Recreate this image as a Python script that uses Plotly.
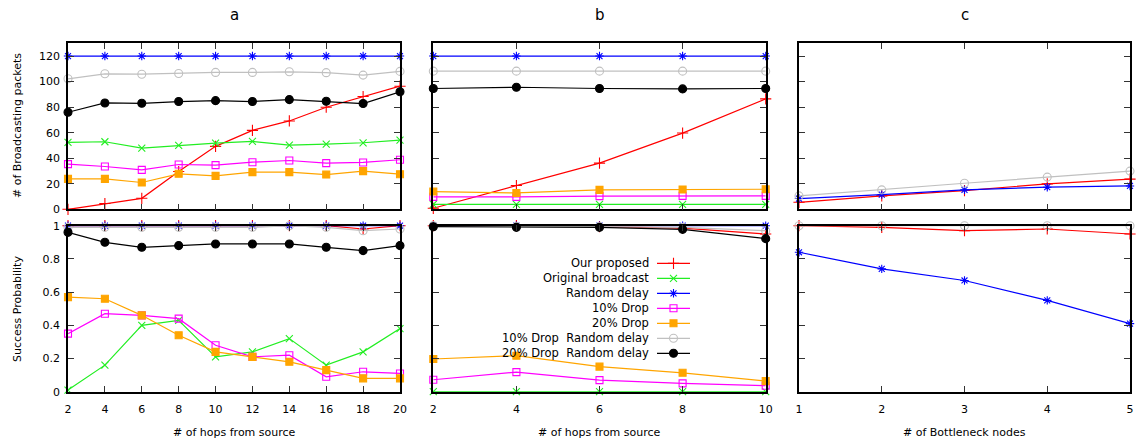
import plotly.graph_objects as go

W, H = 1140, 443

# ---------------- data ----------------
series_names = ["Our proposed", "Original broadcast", "Random delay", "10% Drop",
                "20% Drop", "10% Drop  Random delay", "20% Drop  Random delay"]

hops_a = [2, 4, 6, 8, 10, 12, 14, 16, 18, 20]
hops_b = [2, 4, 6, 8, 10]
bottleneck = [1, 2, 3, 4, 5]

# panel a – number of broadcasting packets
a_pkt_proposed = [0, 4.5, 8.6, 29.6, 49.3, 61.8, 69.2, 79.9, 88.3, 96.4]
a_pkt_original = [52.4, 52.9, 47.9, 50.0, 51.9, 53.2, 50.3, 51.1, 52.1, 54.2]
a_pkt_random = [120, 120, 120, 120, 120, 120, 120, 120, 120, 120]
a_pkt_drop10 = [35.4, 33.5, 30.9, 35.1, 34.6, 36.9, 38.2, 36.2, 36.7, 38.8]
a_pkt_drop20 = [23.8, 23.8, 21.0, 27.8, 26.2, 29.1, 29.1, 27.2, 29.9, 27.5]
a_pkt_drop10rd = [102.2, 106.1, 105.8, 106.4, 107.2, 107.2, 107.7, 107.0, 105.1, 108.0]
a_pkt_drop20rd = [76.0, 83.3, 83.0, 84.4, 85.1, 84.4, 85.9, 84.6, 82.8, 92.0]

# panel a – success probability
a_suc_proposed = [1, 1, 1, 1, 1, 1, 1, 1, 0.98, 1]
a_suc_original = [0.01, 0.16, 0.40, 0.43, 0.21, 0.24, 0.32, 0.16, 0.24, 0.38]
a_suc_random = [1, 1, 1, 1, 1, 1, 1, 1, 1, 1]
a_suc_drop10 = [0.35, 0.47, 0.46, 0.44, 0.28, 0.21, 0.22, 0.09, 0.12, 0.11]
a_suc_drop20 = [0.57, 0.56, 0.46, 0.34, 0.24, 0.21, 0.18, 0.13, 0.08, 0.08]
a_suc_drop10rd = [0.99, 0.99, 0.99, 0.99, 0.99, 0.99, 1.0, 0.99, 0.97, 0.98]
a_suc_drop20rd = [0.96, 0.90, 0.87, 0.88, 0.89, 0.89, 0.89, 0.87, 0.85, 0.88]

# panel b – number of broadcasting packets
b_pkt_proposed = [0.8, 18.6, 36.2, 59.7, 86.5]
b_pkt_original = [3.9, 3.9, 3.9, 3.9, 3.9]
b_pkt_random = [120, 120, 120, 120, 120]
b_pkt_drop10 = [9.7, 9.7, 10.3, 10.5, 10.5]
b_pkt_drop20 = [13.9, 12.8, 15.2, 15.5, 15.7]
b_pkt_drop10rd = [108.2, 108.2, 108.2, 108.2, 108.2]
b_pkt_drop20rd = [94.6, 95.6, 94.6, 94.3, 94.6]

# panel b – success probability
b_suc_proposed = [1, 1, 0.995, 0.985, 0.95]
b_suc_original = [0, 0, 0, 0, 0]
b_suc_random = [1, 1, 1, 1, 1]
b_suc_drop10 = [0.072, 0.118, 0.070, 0.050, 0.036]
b_suc_drop20 = [0.197, 0.217, 0.151, 0.114, 0.064]
b_suc_drop10rd = [1, 0.995, 0.995, 0.99, 0.97]
b_suc_drop20rd = [0.994, 0.99, 0.99, 0.978, 0.922]

# panel c – bottleneck nodes
c_pkt_proposed = [5.5, 10.5, 14.7, 19.9, 23.6]
c_pkt_random = [8.4, 11.5, 15.2, 17.3, 18.3]
c_pkt_drop10rd = [10.5, 15.2, 20.4, 25.2, 29.9]

c_suc_proposed = [1, 0.99, 0.97, 0.98, 0.95]
c_suc_random = [0.84, 0.74, 0.67, 0.55, 0.41]
c_suc_drop10rd = [1, 1, 1, 1, 1]

pkt_ticks = [0, 20, 40, 60, 80, 100, 120]
suc_ticks = [0, 0.2, 0.4, 0.6, 0.8, 1]
suc_tick_labels = ["0", "0.2", "0.4", "0.6", "0.8", "1"]

# ---------------- styles ----------------
colors = ["#ff0000", "#22ee22", "#0000ff", "#ff00ff", "#ffa500", "#c0c0c0", "#000000"]
symbols = ["cross-thin-open", "x-thin-open", "asterisk-open", "square-open",
           "square", "circle-open", "circle"]
msizes = [8, 7, 7, 7, 7, 8, 8]

FONT = "DejaVu Sans"

fig = go.Figure()


def add(xs, ys, idx, xa, ya):
    fig.add_trace(go.Scatter(
        x=xs, y=ys, mode="lines+markers", name=series_names[idx],
        line=dict(color=colors[idx], width=1.2),
        marker=dict(symbol=symbols[idx], size=msizes[idx], color=colors[idx],
                    line=dict(color=colors[idx], width=1.1)),
        xaxis=xa, yaxis=ya, showlegend=False, cliponaxis=False))


a_pkt = [a_pkt_proposed, a_pkt_original, a_pkt_random, a_pkt_drop10, a_pkt_drop20, a_pkt_drop10rd, a_pkt_drop20rd]
a_suc = [a_suc_proposed, a_suc_original, a_suc_random, a_suc_drop10, a_suc_drop20, a_suc_drop10rd, a_suc_drop20rd]
b_pkt = [b_pkt_proposed, b_pkt_original, b_pkt_random, b_pkt_drop10, b_pkt_drop20, b_pkt_drop10rd, b_pkt_drop20rd]
b_suc = [b_suc_proposed, b_suc_original, b_suc_random, b_suc_drop10, b_suc_drop20, b_suc_drop10rd, b_suc_drop20rd]

for i in range(7):
    add(hops_a, a_pkt[i], i, "x", "y")
    add(hops_b, b_pkt[i], i, "x2", "y2")
    add(hops_a, a_suc[i], i, "x4", "y4")
    add(hops_b, b_suc[i], i, "x5", "y5")

c_order = [(0, c_pkt_proposed, c_suc_proposed), (2, c_pkt_random, c_suc_random),
           (5, c_pkt_drop10rd, c_suc_drop10rd)]
for i, p, s in c_order:
    add(bottleneck, p, i, "x3", "y3")
    add(bottleneck, s, i, "x6", "y6")

# ---------------- layout ----------------
def px_x(px):
    return px / W


def px_y(px):
    return 1 - px / H


xdom = [(68, 400), (433.3, 765.7), (799, 1130)]
ytop = (43.3, 209.3)
ybot = (225.7, 391.7)

axis_common = dict(showline=True, linecolor="black", linewidth=1.5, mirror="allticks",
                   ticks="inside", ticklen=6, tickcolor="#333333", tickwidth=1,
                   showgrid=False, zeroline=False, automargin=False,
                   tickfont=dict(family=FONT, size=11, color="black"))

layout = dict(width=W, height=H, margin=dict(l=0, r=0, t=0, b=0, pad=0),
              paper_bgcolor="white", plot_bgcolor="rgba(0,0,0,0)",
              showlegend=False, autosize=False)

xranges = [[2, 20], [2, 10], [1, 5]]
xticks = [hops_a, hops_b, bottleneck]

for col in range(3):
    for row in range(2):
        n = col + 1 + 3 * row
        xk = "xaxis" if n == 1 else f"xaxis{n}"
        yk = "yaxis" if n == 1 else f"yaxis{n}"
        xa = dict(axis_common)
        xa.update(domain=[px_x(xdom[col][0]), px_x(xdom[col][1])],
                  range=xranges[col], tickvals=xticks[col],
                  anchor="y" if n == 1 else f"y{n}",
                  showticklabels=(row == 1), ticklabelstandoff=6)
        ya = dict(axis_common)
        yd = ytop if row == 0 else ybot
        ya.update(domain=[px_y(yd[1]), px_y(yd[0])],
                  anchor="x" if n == 1 else f"x{n}",
                  showticklabels=(col == 0), ticklabelstandoff=4)
        if row == 0:
            ya.update(range=[0, 130], tickvals=pkt_ticks)
        else:
            ya.update(range=[0, 1], tickvals=suc_ticks, ticktext=suc_tick_labels)
        layout[xk] = xa
        layout[yk] = ya

# overlay axis for the legend key samples (pixel coordinates)
layout["xaxis7"] = dict(domain=[0, 1], range=[0, W], visible=False, anchor="y7",
                        fixedrange=True, automargin=False)
layout["yaxis7"] = dict(domain=[0, 1], range=[H, 0], visible=False, anchor="x7",
                        fixedrange=True, automargin=False)

fig.update_layout(**layout)

annotations = []
titles = ["a", "b", "c"]
xtitles = ["# of hops from source", "# of hops from source", "# of Bottleneck nodes"]
for col in range(3):
    cx = (xdom[col][0] + xdom[col][1]) / 2
    annotations.append(dict(text=titles[col], x=px_x(cx), y=px_y(15), xref="paper", yref="paper",
                            showarrow=False, xanchor="center", yanchor="middle",
                            font=dict(family=FONT, size=15, color="black")))
    annotations.append(dict(text=xtitles[col], x=px_x(cx), y=px_y(432), xref="paper", yref="paper",
                            showarrow=False, xanchor="center", yanchor="middle",
                            font=dict(family=FONT, size=11, color="black")))
annotations.append(dict(text="# of Broadcasting packets", x=px_x(17), y=px_y(126), xref="paper",
                        yref="paper", showarrow=False, textangle=-90, xanchor="center",
                        yanchor="middle", font=dict(family=FONT, size=11, color="black")))
annotations.append(dict(text="Success Probability", x=px_x(17), y=px_y(309), xref="paper",
                        yref="paper", showarrow=False, textangle=-90, xanchor="center",
                        yanchor="middle", font=dict(family=FONT, size=11, color="black")))

# custom legend: text to the left of the key
leg_top = 263.3
leg_step = 15.0
for i, name in enumerate(series_names):
    yy = leg_top + i * leg_step
    annotations.append(dict(text=name.replace("  ", "&nbsp; "), x=px_x(651), y=px_y(yy),
                            xref="paper", yref="paper",
                            showarrow=False, xanchor="right", yanchor="middle",
                            font=dict(family=FONT, size=11.5, color="black")))
    fig.add_trace(go.Scatter(x=[657, 690], y=[yy, yy], mode="lines",
                             line=dict(color=colors[i], width=1.2),
                             xaxis="x7", yaxis="y7", showlegend=False, hoverinfo="skip"))
    fig.add_trace(go.Scatter(x=[673.5], y=[yy], mode="markers",
                             marker=dict(symbol=symbols[i], size=msizes[i], color=colors[i],
                                         line=dict(color=colors[i], width=1.1)),
                             xaxis="x7", yaxis="y7", showlegend=False, hoverinfo="skip"))

fig.update_layout(annotations=annotations)

fig.write_html("out.html", config={"displayModeBar": False},
               post_script="document.body.style.margin='0';document.body.style.overflow='hidden';")
